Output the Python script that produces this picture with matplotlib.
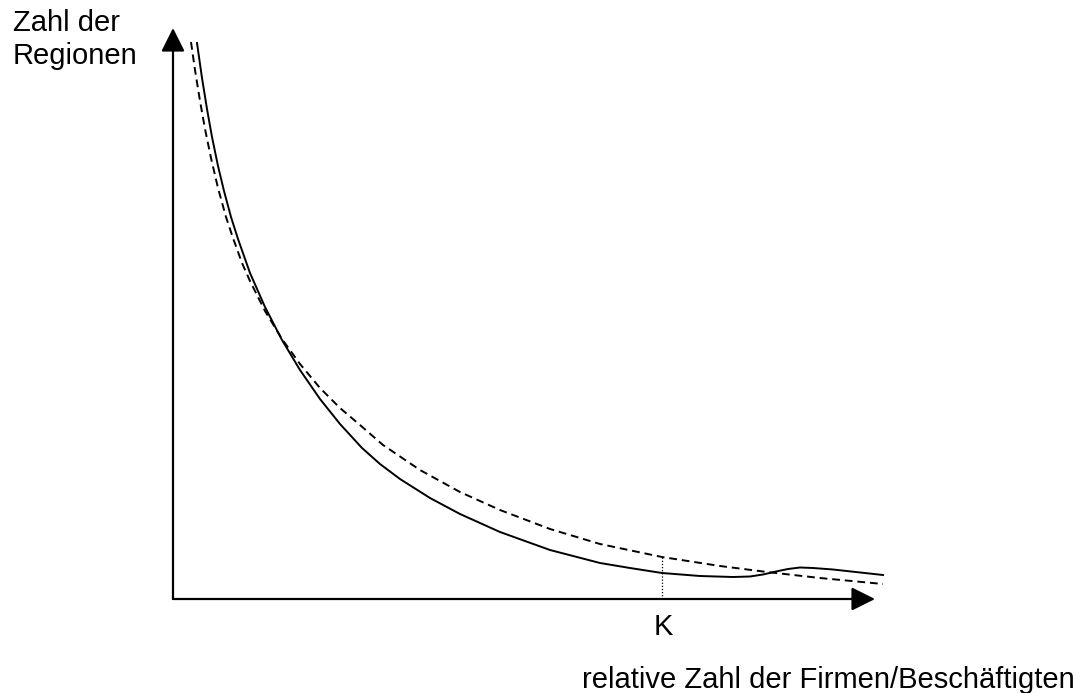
import matplotlib
matplotlib.use("Agg")
import matplotlib.pyplot as plt

plt.rcParams["font.family"] = ["Liberation Sans", "DejaVu Sans"]

# curves (units: offset from the axis corner)
dashed_x = [18, 22, 27, 32, 38, 45, 53, 60, 69, 77, 92, 109, 127, 147, 167,
            187, 210, 247, 287, 327, 377, 427, 489, 547, 594, 647, 710]
dashed_y = [557, 529, 498, 470, 441, 411, 382, 361, 336, 318, 288, 260, 235,
            211, 191, 174, 154, 129, 107, 89, 70, 55, 42, 33, 27, 21, 15]

solid_x = [24, 29, 34, 39, 45, 51, 58, 65, 77, 92, 109, 127, 147, 167, 189,
           207, 227, 257, 287, 327, 377, 427, 457, 489, 527, 560, 577, 590,
           603, 615, 627, 640, 660, 710]
solid_y = [556, 521, 490, 462, 433, 408, 382, 360, 326, 292, 259, 229, 200,
           175, 151, 135, 120, 101, 85, 67, 49, 36, 31, 26, 23, 22, 22.5, 24.5,
           27.5, 30, 31.5, 31, 29.5, 24]

k_pos = 489
k_top = 42

x_end = 702
y_end = 571

fig = plt.figure(figsize=(10.87, 6.93), dpi=100)
ax = fig.add_axes([0, 0, 1, 1])
ax.set_xlim(-173, 914)
ax.set_ylim(-94, 599)
ax.axis("off")

# axes with arrows
arrow = dict(arrowstyle="-|>,head_length=0.72,head_width=0.36", color="black",
             lw=1.6, shrinkA=0, shrinkB=0, mutation_scale=20)
ax.annotate("", xy=(0, y_end), xytext=(0, 0), arrowprops=arrow)
ax.annotate("", xy=(x_end, 0), xytext=(0, 0), arrowprops=arrow)

ax.plot(dashed_x, dashed_y, color="black", lw=1.4, linestyle=(0, (4, 2.5)),
        solid_joinstyle="round", dash_joinstyle="round")
ax.plot(solid_x, solid_y, color="black", lw=1.4, solid_joinstyle="round")
ax.plot([k_pos, k_pos], [0, k_top], color="black", lw=0.9, linestyle=(0, (1, 1.5)))

fs = 21
ax.text(-160, 568, "Zahl der", fontsize=fs, va="baseline", ha="left")
ax.text(-160, 535, "Regionen", fontsize=fs, va="baseline", ha="left")
ax.text(481, -36, "K", fontsize=fs, va="baseline", ha="left")
ax.text(409, -89, "relative Zahl der Firmen/Beschäftigten", fontsize=fs,
        va="baseline", ha="left")

fig.savefig("out.png", dpi=100)
